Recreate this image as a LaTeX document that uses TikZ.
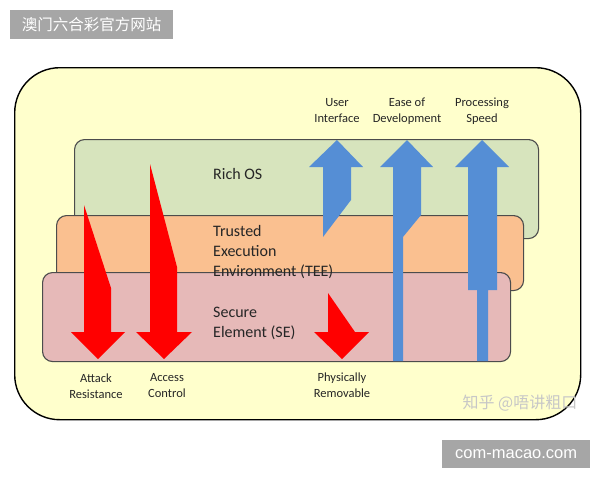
\documentclass[tikz,border=0pt]{standalone}
\usepackage{fontspec}
\setmainfont{Carlito}
\newfontfamily\cjkfont{Noto Sans CJK SC}
\newfontfamily\markfont{Liberation Sans}
\usepackage{xcolor}
\usepackage{tikz}
\usetikzlibrary{positioning}

\definecolor{paper}{HTML}{FFFFCC}
\definecolor{richgreen}{HTML}{D7E4BD}
\definecolor{teeorange}{HTML}{FAC090}
\definecolor{sepink}{HTML}{E6B9B8}
\definecolor{upblue}{HTML}{558ED5}
\definecolor{downred}{HTML}{FF0000}
\definecolor{markgray}{HTML}{A6A6A6}

\begin{document}
\begin{tikzpicture}[x=1pt, y=-1pt,
  frame/.style={draw=black, line width=1.4pt, fill=paper, rounded corners=45pt,
                anchor=north west, inner sep=0pt},
  layer/.style={draw=black!70, line width=1.1pt, rounded corners=10pt,
                anchor=north west, inner sep=0pt},
  boxtxt/.style={anchor=west, align=left, inner sep=0pt, text=black!85,
                 font=\fontsize{16}{20}\selectfont},
  lbl/.style={align=center, inner sep=0pt, text=black!85,
              font=\fontsize{12.5}{16}\selectfont},
  uparr/.style={fill=upblue},
  downarr/.style={fill=downred},
  markbox/.style={fill=markgray, text=white, anchor=north west, inner sep=0pt}]

\useasboundingbox (0,0) rectangle (600,480);
\fill[white] (0,0) rectangle (600,480);

% outer frame and the three layers
\node[frame, minimum width=566pt, minimum height=352pt] (outer) at (14,67) {};
\node[layer, fill=richgreen, minimum width=464pt, minimum height=99pt] (rich) at (74,139) {};
\node[layer, fill=teeorange, minimum width=467pt, minimum height=75pt] (tee) at (56,215) {};
\node[layer, fill=sepink, minimum width=468pt, minimum height=89pt] (se) at (42,272) {};

\node[boxtxt] (richtxt) at (213,174) {Rich OS};
\node[boxtxt] (teetxt) at (213,252) {Trusted\\Execution\\Environment (TEE)};
\node[boxtxt] (setxt) at (213,323) {Secure\\Element (SE)};

% red arrows (pointing down)
\fill[downarr] (84,205) -- (111,288) -- (111,332) -- (125,332) -- (98,359)
  -- (71,332) -- (84,332) -- cycle;
\fill[downarr] (150,164) -- (177,267) -- (177,332) -- (192,332) -- (164,359)
  -- (136,332) -- (150,332) -- cycle;
\fill[downarr] (328,293) -- (355,332) -- (369,332) -- (342,359)
  -- (314,332) -- (328,332) -- cycle;

% blue arrows (pointing up)
\fill[uparr] (337,140) -- (363,167) -- (351,167) -- (351,200) -- (323,237)
  -- (323,167) -- (309,167) -- cycle;
\fill[uparr] (407,140) -- (433,167) -- (421,167) -- (421,215) -- (403,237)
  -- (403,361) -- (393,361) -- (393,167) -- (380,167) -- cycle;
\fill[uparr] (482,140) -- (509,167) -- (497,167) -- (497,290) -- (488,290)
  -- (488,361) -- (477,361) -- (477,290) -- (468,290) -- (468,167)
  -- (455,167) -- cycle;

% labels
\node[lbl] (ui) at (337,111) {User\\Interface};
\node[lbl] (eod) at (407,111) {Ease of\\Development};
\node[lbl] (speed) at (482,111) {Processing\\Speed};
\node[lbl] (attack) at (96,386) {Attack\\Resistance};
\node[lbl] (access) at (167,386) {Access\\Control};
\node[lbl] (remov) at (342,385) {Physically\\Removable};

% watermarks
\node[markbox, minimum width=163pt, minimum height=29pt] (mark1) at (10,10) {};
\node[text=white, font=\cjkfont\fontsize{15.5}{16}\selectfont] (mark1txt)
  at (mark1.center) {澳门六合彩官方网站};
\node[markbox, minimum width=148pt, minimum height=28pt] (mark2) at (442,440) {};
\node[text=white, font=\markfont\fontsize{16.5}{17}\selectfont] (mark2txt)
  at (mark2.center) {com-macao.com};
\node[text=black!22, font=\cjkfont\fontsize{16}{17}\selectfont] (zhihu)
  at (520,403) {知乎 @唔讲粗口};
\end{tikzpicture}
\end{document}
